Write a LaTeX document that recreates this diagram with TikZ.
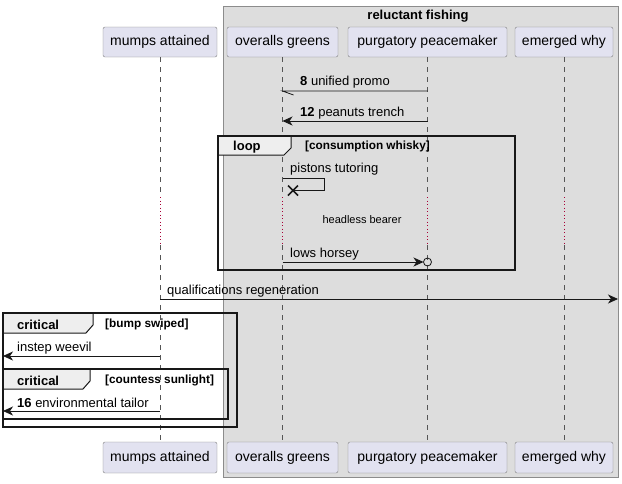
\documentclass[tikz,border=0pt]{standalone}
\usepackage{fontspec}
\setmainfont{Liberation Sans}
\usetikzlibrary{arrows.meta,calc}
\definecolor{partfill}{HTML}{E2E2F0}
\definecolor{partdraw}{HTML}{7F7F7F}
\definecolor{boxfill}{HTML}{DDDDDD}
\definecolor{boxdraw}{HTML}{8C8C8C}
\definecolor{lifecol}{HTML}{555555}
\definecolor{delaycol}{HTML}{A80036}
\definecolor{tabfill}{HTML}{EEEEEE}
\definecolor{ink}{HTML}{181818}
\tikzset{
  part/.style={draw=partdraw, fill=partfill, rounded corners=2pt, minimum height=30pt, inner sep=0pt, font=\fontsize{14}{16}\selectfont},
  lifeline/.style={draw=lifecol, line width=0.5pt, dash pattern=on 5pt off 5pt},
  delayline/.style={draw=delaycol, line width=0.8pt, dash pattern=on 1pt off 2.5pt},
  plainline/.style={draw=ink, line width=0.8pt},
  msg/.style={plainline, -{Stealth[length=10pt,width=9pt,inset=3pt]}},
  mlabel/.style={anchor=west, inner sep=0pt, font=\fontsize{13}{15}\selectfont},
  framebox/.style={draw=ink, line width=1.4pt},
  tabbox/.style={draw=ink, fill=tabfill, line width=1pt},
  tabtext/.style={anchor=west, inner sep=0pt, font=\fontsize{13}{15}\selectfont\bfseries},
  guardtext/.style={anchor=west, inner sep=0pt, font=\fontsize{11.8}{13}\selectfont\bfseries},
}
\begin{document}
\begin{tikzpicture}[x=1pt,y=-1pt]
\useasboundingbox (0,0) rectangle (622,483);
% grey box
\draw[draw=boxdraw, fill=boxfill] (223,6) rectangle (618,477);
\node[inner sep=0pt, font=\fontsize{13}{15}\selectfont\bfseries] (boxtitle) at (418,16) {reluctant fishing};
% participants
\node[part, minimum width=114pt] (mt) at (160,42) {mumps attained};
\node[part, minimum width=111pt] (ot) at (282.5,42) {overalls greens};
\node[part, minimum width=159pt] (pt) at (427.5,42) {purgatory peacemaker};
\node[part, minimum width=98pt] (et) at (564,42) {emerged why};
\node[part, minimum width=114pt, minimum height=31pt] (mb) at (160,457.5) {mumps attained};
\node[part, minimum width=111pt, minimum height=31pt] (ob) at (282.5,457.5) {overalls greens};
\node[part, minimum width=159pt, minimum height=31pt] (pb) at (427.5,457.5) {purgatory peacemaker};
\node[part, minimum width=98pt, minimum height=31pt] (eb) at (564,457.5) {emerged why};
% lifelines
\coordinate (d1) at (0,197);
\coordinate (d2) at (0,245);
\foreach \p in {m,o,p,e}{
  \draw[lifeline] (\p t.south) -- (\p t.south |- d1);
  \draw[delayline] (\p t.south |- d1) -- (\p t.south |- d2);
  \draw[lifeline] (\p t.south |- d2) -- (\p b.north);
}
% message 8
\coordinate (r8) at (0,91);
\draw[plainline] (pt |- r8) -- (ot |- r8) -- ++(11,4);
\node[mlabel] (l8) at (300,82) {\textbf{8} unified promo};
% message 12
\coordinate (r12) at (0,121);
\draw[msg] (pt |- r12) -- (ot |- r12);
\node[mlabel] (l12) at (300,113) {\textbf{12} peanuts trench};
% loop frame
\draw[tabbox] (218,136) -- (291,136) -- (291,148) -- (284,155) -- (218,155) -- cycle;
\draw[framebox] (218,136) rectangle (515,270);
\node[tabtext] (looptxt) at (233,147) {loop};
\node[guardtext] (loopguard) at (305,146.5) {[consumption whisky]};
% self message
\coordinate (r17) at (0,178);
\coordinate (r18) at (0,190.5);
\draw[plainline] (ot |- r17) -- ++(42,0) -- ++(0,12.5) -- ($(ot |- r18)+(11,0)$);
\draw[draw=ink, line width=1.6pt] ($(ot |- r18)+(5.5,-5)$) -- ++(10,10);
\draw[draw=ink, line width=1.6pt] ($(ot |- r18)+(5.5,5)$) -- ++(10,-10);
\node[mlabel] (l17) at (290,169) {pistons tutoring};
% delay
\node[inner sep=0pt, font=\fontsize{11}{13}\selectfont] (delay) at (362,220) {headless bearer};
% lows horsey
\coordinate (r20) at (0,262);
\draw[msg] (ot |- r20) -- ($(pt |- r20)+(-4,0)$);
\draw[plainline] (pt |- r20) circle (4);
\node[mlabel] (l20) at (290,254) {lows horsey};
% qualifications
\coordinate (r21) at (0,299);
\coordinate (rightend) at (618,299);
\draw[msg] (mt |- r21) -- (rightend);
\node[mlabel] (l21) at (167,291) {qualifications regeneration};
% critical 1
\draw[tabbox] (3,313) -- (93,313) -- (93,325) -- (86,333) -- (3,333) -- cycle;
\draw[framebox] (3,313) rectangle (237,427);
\node[tabtext] (crit1) at (17,324.5) {critical};
\node[guardtext] (crit1g) at (105,324.5) {[bump swiped]};
\coordinate (r22) at (0,356);
\coordinate (leftend1) at (3,356);
\draw[msg] (mt |- r22) -- (leftend1);
\node[mlabel] (l22) at (17,348) {instep weevil};
% critical 2
\draw[tabbox] (3,369) -- (90,369) -- (90,381) -- (83,389) -- (3,389) -- cycle;
\draw[framebox] (3,369) rectangle (228,419);
\node[tabtext] (crit2) at (17,380.5) {critical};
\node[guardtext] (crit2g) at (105,380.5) {[countess sunlight]};
\coordinate (r23) at (0,411);
\coordinate (leftend2) at (3,411);
\draw[msg] (mt |- r23) -- (leftend2);
\node[mlabel] (l23) at (17,403) {\textbf{16} environmental tailor};
\end{tikzpicture}
\end{document}
